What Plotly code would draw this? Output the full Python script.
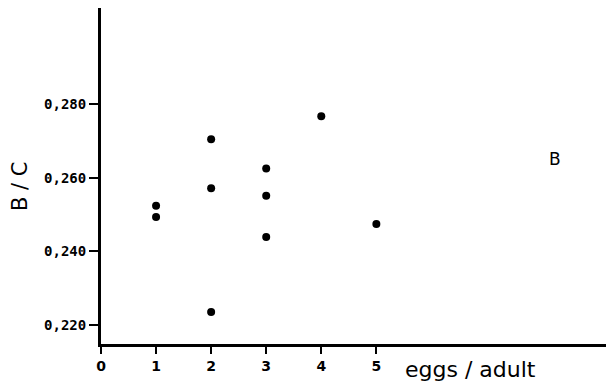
import plotly.graph_objects as go

# eggs per adult vs B/C ratio
eggs = [1, 1, 2, 2, 2, 3, 3, 3, 4, 5]
bc_ratio = [0.2524, 0.2493, 0.2704, 0.2571, 0.2235, 0.2625, 0.2551, 0.2439, 0.2767, 0.2474]

x_ticks = [0, 1, 2, 3, 4, 5]
x_tick_text = ["0", "1", "2", "3", "4", "5"]
y_ticks = [0.220, 0.240, 0.260, 0.280]
y_tick_text = ["0,220", "0,240", "0,260", "0,280"]

W, H = 606, 389
L, R, T, B = 101, 0, 8, 45
PW, PH = W - L - R, H - T - B


def px(x):
    return (x - L) / PW


def py(y):
    return (H - B - y) / PH


fig = go.Figure()
fig.add_trace(go.Scatter(
    x=eggs, y=bc_ratio, mode="markers",
    marker=dict(color="black", size=8, line=dict(width=0)),
    showlegend=False,
))

fig.update_xaxes(
    range=[0, 9.17], tickvals=x_ticks, ticktext=x_tick_text,
    ticks="outside", ticklen=7, tickwidth=2, tickcolor="black",
    showline=True, linecolor="black", linewidth=3,
    showgrid=False, zeroline=False,
    tickfont=dict(family="DejaVu Sans", size=14, color="black", weight="bold"),
)
fig.update_yaxes(
    range=[0.21484, 0.30606], tickvals=y_ticks, ticktext=y_tick_text,
    ticks="outside", ticklen=9, tickwidth=2, tickcolor="black",
    showline=True, linecolor="black", linewidth=3,
    showgrid=False, zeroline=False,
    tickfont=dict(family="DejaVu Sans Mono", size=14, color="black", weight="bold"),
)

fig.add_annotation(
    text="eggs ∕ adult", xref="paper", yref="paper",
    x=px(470), y=py(369), xanchor="center", yanchor="middle", showarrow=False,
    font=dict(family="DejaVu Sans", size=22, color="black"),
)
fig.add_annotation(
    text="B / C", xref="paper", yref="paper",
    x=px(20), y=py(186), xanchor="center", yanchor="middle",
    showarrow=False, textangle=-90,
    font=dict(family="DejaVu Sans", size=21, color="black"),
)
fig.add_annotation(
    text="B", xref="paper", yref="paper",
    x=px(555), y=py(159), xanchor="center", yanchor="middle", showarrow=False,
    font=dict(family="DejaVu Sans", size=17, color="black"),
)

fig.update_layout(
    width=W, height=H,
    margin=dict(l=L, r=R, t=T, b=B),
    plot_bgcolor="white", paper_bgcolor="white",
)

fig.write_html("out.html")
